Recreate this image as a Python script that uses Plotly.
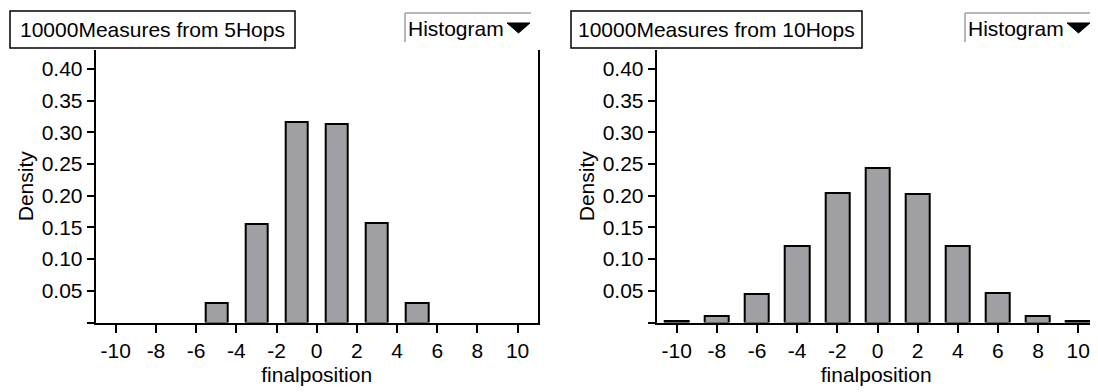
import plotly.graph_objects as go

# ---- data ----
pos5 = [-5, -3, -1, 1, 3, 5]
dens5 = [0.030, 0.155, 0.317, 0.314, 0.157, 0.030]
pos10 = [-10, -8, -6, -4, -2, 0, 2, 4, 6, 8, 10]
dens10 = [0.002, 0.011, 0.045, 0.121, 0.205, 0.244, 0.202, 0.121, 0.047, 0.011, 0.002]
xticks = [-10, -8, -6, -4, -2, 0, 2, 4, 6, 8, 10]
xticktext = ["-10", "-8", "-6", "-4", "-2", "0", "2", "4", "6", "8", "10"]
yticks = [0, 0.05, 0.10, 0.15, 0.20, 0.25, 0.30, 0.35, 0.40]
ytext = ["", "0.05", "0.10", "0.15", "0.20", "0.25", "0.30", "0.35", "0.40"]
titles = ["10000Measures from 5Hops", "10000Measures from 10Hops"]
xlabel = "finalposition"
ylabel = "Density"

OFF = 8  # default page body margin
W, H = 1098 - OFF, 392 - OFF
FONT = "Liberation Sans, Arial, sans-serif"
BAR = "#a0a0a4"

def px(x):
    return (x - OFF) / W

def py(y):
    return 1 - (y - OFF) / H

fig = go.Figure()
fig.add_trace(go.Bar(x=pos5, y=dens5, width=1.1, marker=dict(color=BAR, line=dict(color="black", width=2)),
                     xaxis="x", yaxis="y", showlegend=False))
fig.add_trace(go.Bar(x=pos10, y=dens10, width=1.2, marker=dict(color=BAR, line=dict(color="black", width=2)),
                     xaxis="x2", yaxis="y2", showlegend=False))

ybot, ytop = 322.5, 50
panels = [(95.7, 537.7, [-11, 11]), (656.7, 1095.7, [-11, 10.87])]

axcommon_x = dict(tickvals=xticks, ticktext=xticktext, ticks="outside", ticklen=8, tickwidth=2, tickcolor="black",
                  showline=True, linecolor="black", linewidth=2, showgrid=False, zeroline=False,
                  tickfont=dict(family=FONT, size=21, color="black"),
                  title=dict(text=xlabel, font=dict(family=FONT, size=21, color="black"), standoff=7))
axcommon_y = dict(range=[0, 0.43], tickvals=yticks, ticktext=ytext, ticks="outside", ticklen=7, tickwidth=2,
                  tickcolor="black", showline=True, mirror=True, linecolor="black", linewidth=2,
                  showgrid=False, zeroline=False,
                  tickfont=dict(family=FONT, size=21, color="black"),
                  title=dict(text=ylabel, font=dict(family=FONT, size=21, color="black"), standoff=2))

layout = dict(width=W, height=H, margin=dict(l=0, r=0, t=0, b=0),
              paper_bgcolor="white", plot_bgcolor="white", bargap=0)
for i, (l, r, xr) in enumerate(panels):
    sx = "" if i == 0 else "2"
    layout["xaxis" + sx] = dict(axcommon_x, domain=[px(l), px(r)], range=xr, anchor="y" + sx)
    layout["yaxis" + sx] = dict(axcommon_y, domain=[py(ybot), py(ytop)], anchor="x" + sx)
fig.update_layout(**layout)

shapes = []
annotations = []
boxes = [(10, 295, 405, 531), (571, 862, 965, 1091)]
for i, (bl, br, hl, hr) in enumerate(boxes):
    shapes.append(dict(type="rect", xref="paper", yref="paper", x0=px(bl), x1=px(br), y0=py(11), y1=py(48),
                       line=dict(color="black", width=1.5), fillcolor="white"))
    annotations.append(dict(xref="paper", yref="paper", x=px((bl + br) / 2), y=py(30), text=titles[i],
                            showarrow=False, xanchor="center", yanchor="middle",
                            font=dict(family=FONT, size=21, color="black")))
    shapes.append(dict(type="line", xref="paper", yref="paper", x0=px(hl), x1=px(hr), y0=py(13), y1=py(13),
                       line=dict(color="#a0a0a0", width=1.5)))
    shapes.append(dict(type="line", xref="paper", yref="paper", x0=px(hl), x1=px(hl), y0=py(13), y1=py(42),
                       line=dict(color="#a0a0a0", width=1.5)))
    annotations.append(dict(xref="paper", yref="paper", x=px(hl + 1), y=py(28), text="Histogram",
                            showarrow=False, xanchor="left", yanchor="middle",
                            font=dict(family=FONT, size=21, color="black")))
    tx0, tx1, ty0, ty1 = px(hr - 24), px(hr - 1), py(23), py(33)
    shapes.append(dict(type="path", xref="paper", yref="paper",
                       path="M %f %f L %f %f L %f %f Z" % (tx0, ty0, tx1, ty0, (tx0 + tx1) / 2, ty1),
                       fillcolor="black", line=dict(color="black", width=1)))
fig.update_layout(shapes=shapes, annotations=annotations)

fig.write_html("out.html")
